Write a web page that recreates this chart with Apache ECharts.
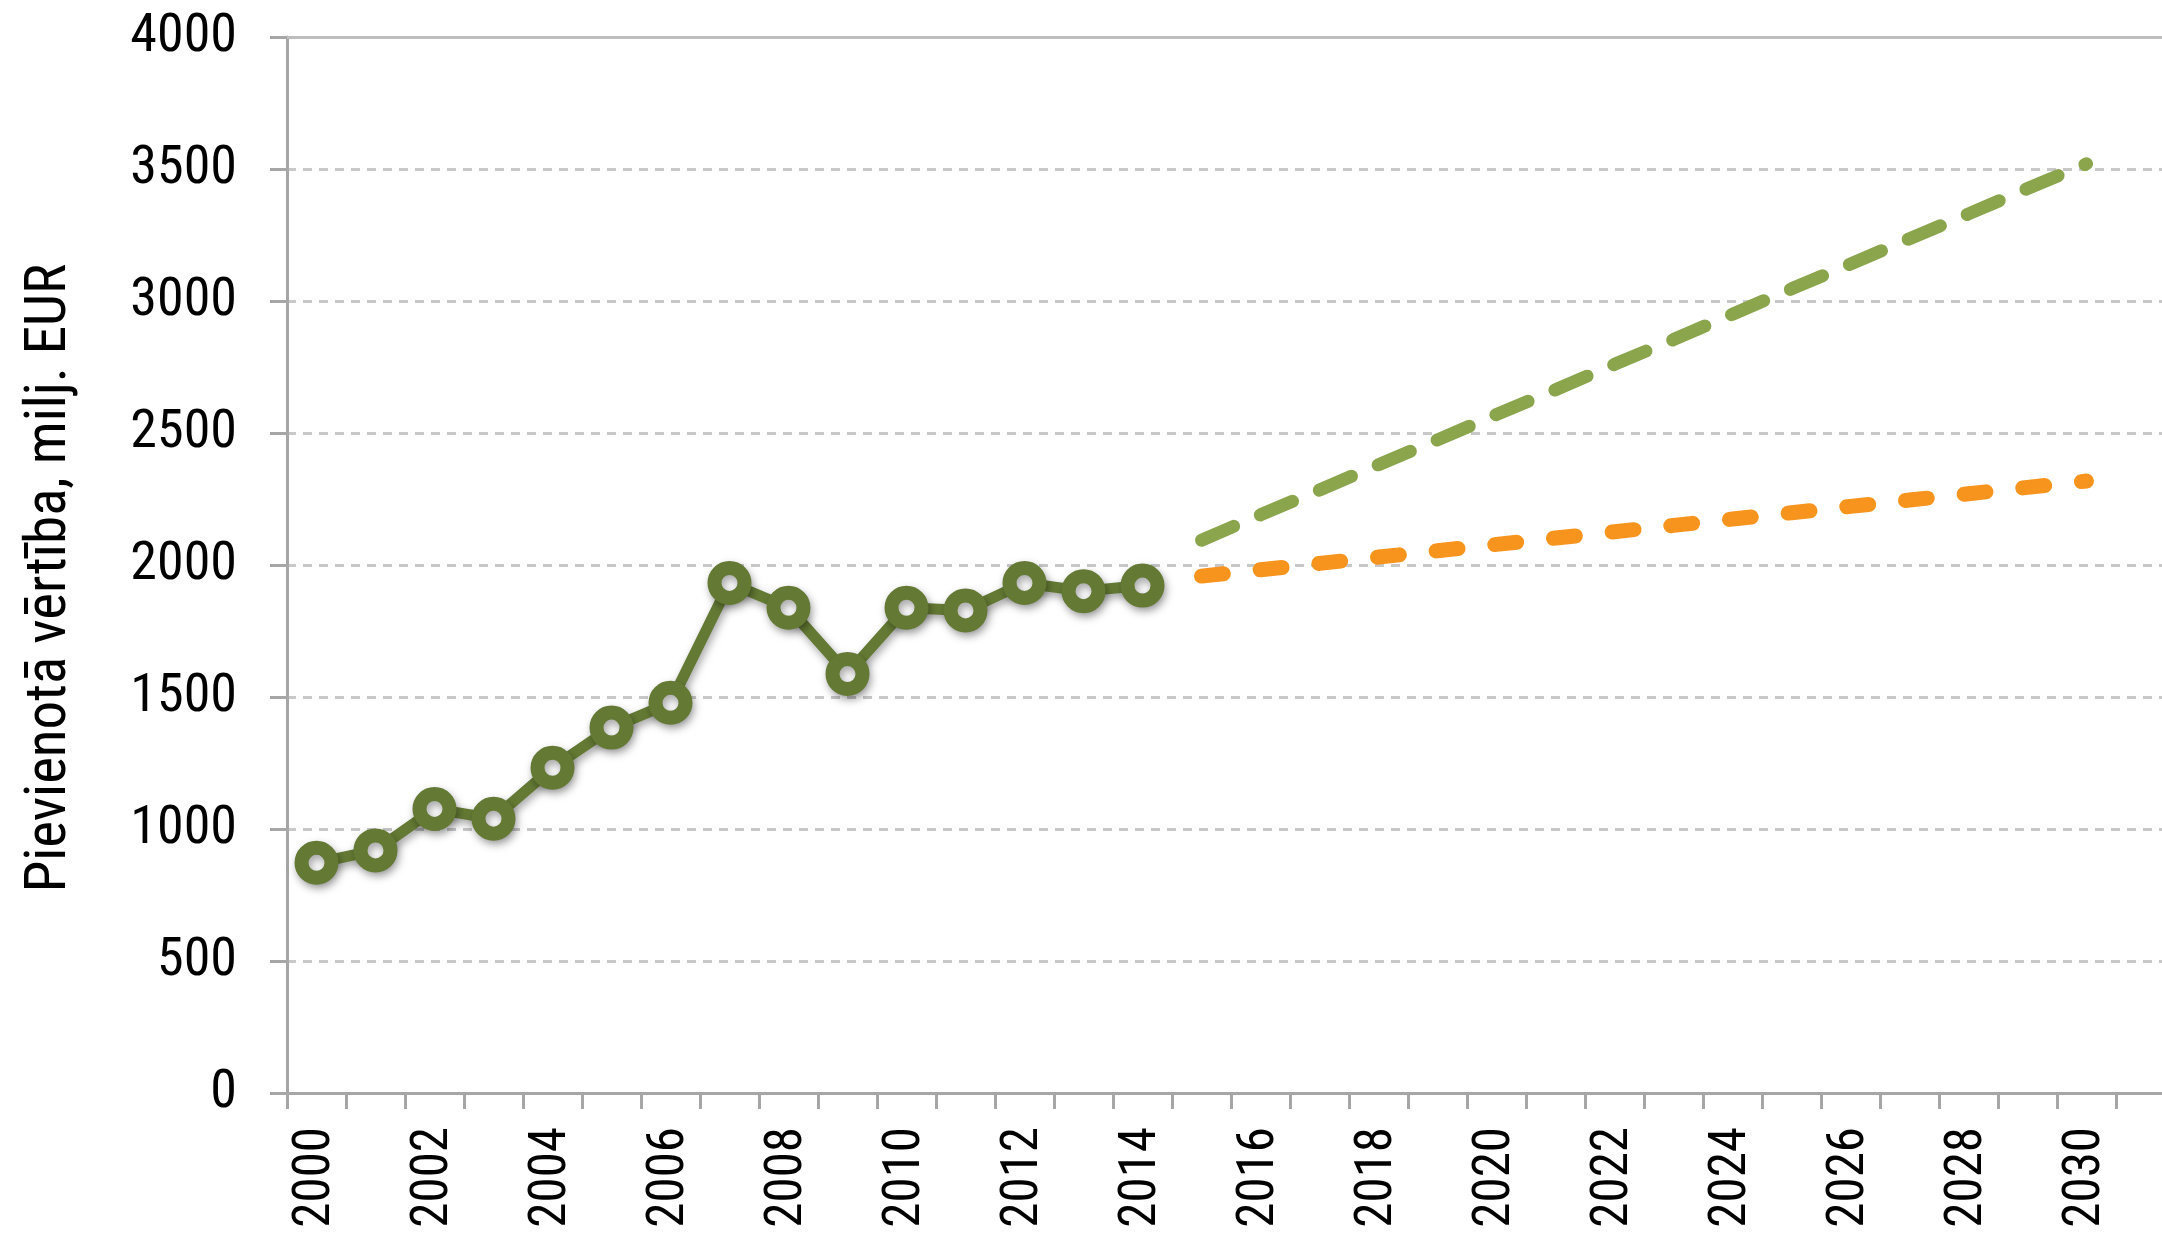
<!DOCTYPE html>
<html>
<head>
<meta charset="utf-8">
<script src="https://cdn.jsdelivr.net/npm/echarts@6/dist/echarts.min.js"></script>
<style>
html,body{margin:0;padding:0;background:#fff;}
#chart{width:2162px;height:1233px;}
</style>
</head>
<body>
<div id="chart"></div>
<script>
const years = ['2000','2001','2002','2003','2004','2005','2006','2007','2008','2009','2010','2011','2012','2013','2014','2015','2016','2017','2018','2019','2020','2021','2022','2023','2024','2025','2026','2027','2028','2029','2030','2031'];
const historical = [872, 919, 1076, 1039, 1232, 1384, 1478, 1932, 1838, 1587, 1838, 1828, 1932, 1901, 1922];
const forecastHigh = [2094, 2190, 2284, 2380, 2474, 2570, 2664, 2760, 2854, 2950, 3046, 3140, 3236, 3330, 3426, 3520];
const forecastLow = [1958, 1982, 2006, 2030, 2054, 2078, 2102, 2126, 2150, 2174, 2198, 2222, 2246, 2270, 2294, 2318];
const yTitle = 'Pievienotā vērtība, milj. EUR';

// pick the narrowest available sans font (reference uses a narrow Arial-like face)
const ctx = document.createElement('canvas').getContext('2d');
function available(f) {
  for (const base of ['monospace', 'serif']) {
    ctx.font = '60px ' + base;
    const w0 = ctx.measureText('Pievienotā 2000 EUR').width;
    ctx.font = "60px '" + f + "', " + base;
    const w1 = ctx.measureText('Pievienotā 2000 EUR').width;
    if (Math.abs(w0 - w1) > 0.5) return true;
  }
  return false;
}
const candidates = ['Liberation Sans Narrow', 'Arial Narrow', 'Roboto Condensed', 'Open Sans Condensed', 'Noto Sans Condensed', 'DejaVu Sans Condensed', 'Liberation Sans'];
let FONTNAME = 'Liberation Sans';
for (const f of candidates) { if (available(f)) { FONTNAME = f; break; } }
const FONT = "'" + FONTNAME + "', sans-serif";
function sizeFor(text, target, maxSize) {
  ctx.font = "100px " + FONT;
  const w = ctx.measureText(text).width;
  return Math.min(maxSize, Math.round(100 * target / w));
}
const yTickSize = sizeFor('2000', 106, 56);
const xTickSize = sizeFor('2000', 101, 56);
const titleSize = sizeFor(yTitle, 630, 58);

const pad = new Array(historical.length).fill(null);

const chart = echarts.init(document.getElementById('chart'), null, {renderer: 'canvas'});
chart.setOption({
  animation: false,
  backgroundColor: '#ffffff',
  grid: {left: 287, right: -13, top: 37, bottom: 140, containLabel: false, outerBoundsMode: 'none'},
  xAxis: [{
    type: 'category', data: years, boundaryGap: true,
    axisLine: {lineStyle: {color: '#a6a6a6', width: 3}},
    axisTick: {show: true, interval: 0, length: 16, lineStyle: {color: '#a6a6a6', width: 3}},
    axisLabel: {interval: 1, rotate: 90, margin: 34, fontSize: xTickSize, fontFamily: FONT, color: '#000'},
    splitLine: {show: false}
  }, {
    type: 'category', data: years, position: 'top',
    axisLine: {show: true, lineStyle: {color: '#bdbdbd', width: 3}},
    axisTick: {show: false}, axisLabel: {show: false}, splitLine: {show: false}
  }],
  yAxis: {
    type: 'value', min: 0, max: 4000, interval: 500,
    axisLine: {show: true, lineStyle: {color: '#a6a6a6', width: 3}},
    axisTick: {show: true, length: 17, lineStyle: {color: '#a6a6a6', width: 3}},
    axisLabel: {margin: 50, fontSize: yTickSize, fontFamily: FONT, color: '#000',
      formatter: function (v) { return String(v); }},
    splitLine: {show: true, lineStyle: {color: '#c8c8c8', width: 3, type: [9, 7]}},
    name: yTitle, nameLocation: 'middle', nameGap: Math.round(236 - titleSize / 2), nameRotate: 90,
    nameTextStyle: {fontSize: titleSize, fontFamily: FONT, color: '#000', padding: [0, 26, 0, 0]}
  },
  series: [{
    type: 'line', data: historical, z: 5,
    symbol: 'circle', symbolSize: 30, showAllSymbol: true,
    itemStyle: {color: '#ffffff', borderColor: '#647a34', borderWidth: 14,
      shadowColor: 'rgba(0,0,0,0.35)', shadowBlur: 8, shadowOffsetX: 2, shadowOffsetY: 4},
    lineStyle: {color: '#647a34', width: 11,
      shadowColor: 'rgba(0,0,0,0.35)', shadowBlur: 8, shadowOffsetX: 2, shadowOffsetY: 4},
    emphasis: {disabled: true}
  }, {
    type: 'line', data: pad.concat(forecastHigh), symbol: 'none', z: 4,
    lineStyle: {color: '#8aa54c', width: 13, type: [35, 29], cap: 'round'},
    emphasis: {disabled: true}
  }, {
    type: 'line', data: pad.concat(forecastLow), symbol: 'none', z: 4,
    lineStyle: {color: '#f7941d', width: 15, type: [22, 37], cap: 'round'},
    emphasis: {disabled: true}
  }]
});
</script>
</body>
</html>
